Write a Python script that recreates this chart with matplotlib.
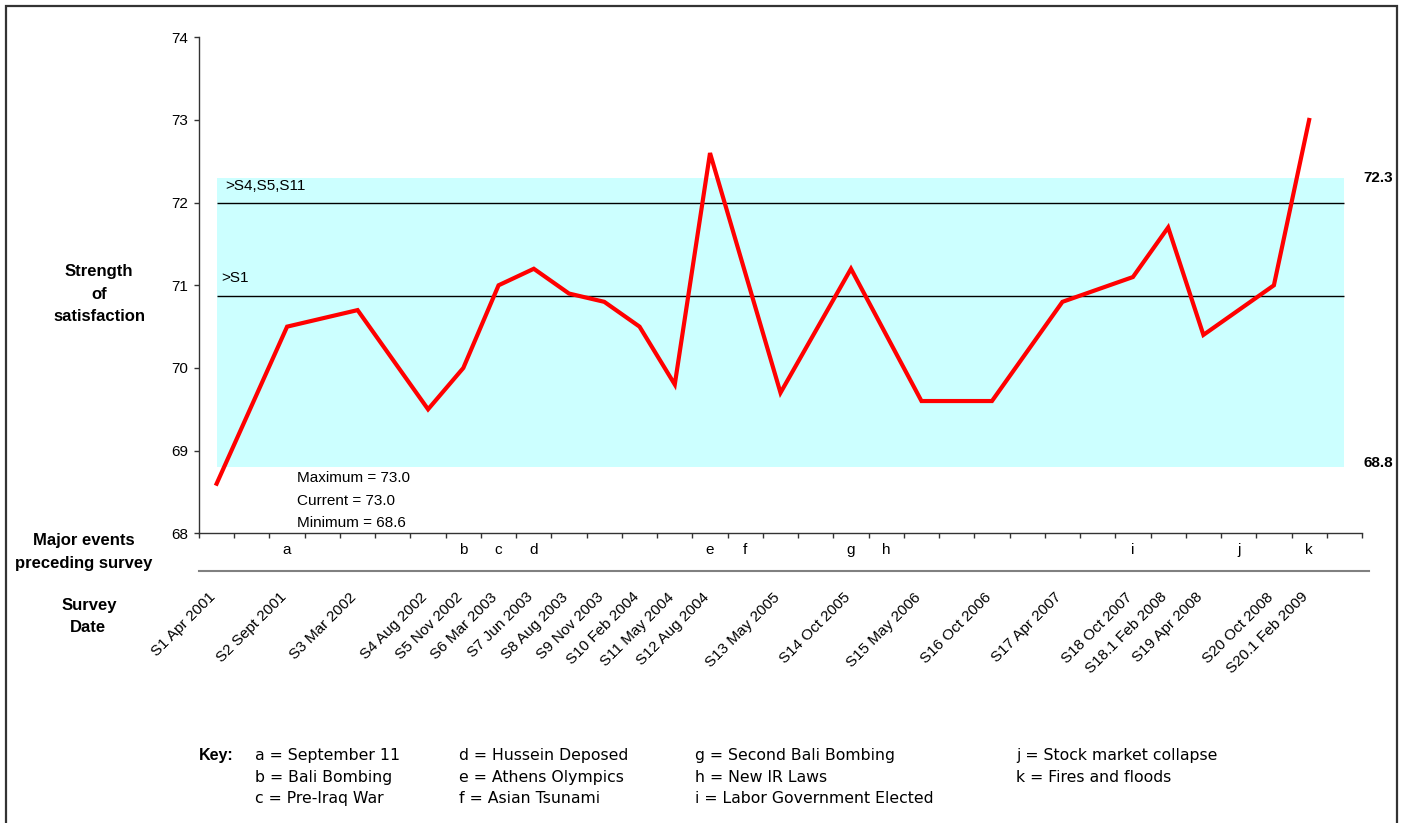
import numpy as np
import matplotlib
matplotlib.use("Agg")
import matplotlib.pyplot as plt
import matplotlib.transforms as mtransforms
from matplotlib.patches import Rectangle
from matplotlib.lines import Line2D

plt.rcParams['font.family'] = ['Liberation Sans', 'DejaVu Sans']

# ---------------- data ----------------
survey_labels = ['S1 Apr 2001', '', 'S2 Sept 2001', '', 'S3 Mar 2002', '',
                 'S4 Aug 2002', 'S5 Nov 2002', 'S6 Mar 2003', 'S7 Jun 2003',
                 'S8 Aug 2003', 'S9 Nov 2003', 'S10 Feb 2004', 'S11 May 2004',
                 'S12 Aug 2004', '', 'S13 May 2005', '', 'S14 Oct 2005', '',
                 'S15 May 2006', '', 'S16 Oct 2006', '', 'S17 Apr 2007', '',
                 'S18 Oct 2007', 'S18.1 Feb 2008', 'S19 Apr 2008', '',
                 'S20 Oct 2008', 'S20.1 Feb 2009', '']
nan = np.nan
satisfaction = [68.6, nan, 70.5, nan, 70.7, nan, 69.5, 70.0, 71.0, 71.2,
                70.9, 70.8, 70.5, 69.8, 72.6, nan, 69.7, nan, 71.2, nan,
                69.6, nan, 69.6, nan, 70.8, nan, 71.1, 71.7, 70.4, nan,
                71.0, 73.0, nan]
event_letters = ['', '', 'a', '', '', '', '', 'b', 'c', 'd', '', '', '', '',
                 'e', 'f', '', '', 'g', 'h', '', '', '', '', '', '', 'i', '',
                 '', 'j', '', 'k', '']
band_low, band_high = 68.8, 72.3
ref_values = [72.0, 70.87]
ref_labels = ['>S4,S5,S11', '>S1']
stats_text = ['Maximum = 73.0', 'Current = 73.0', 'Minimum = 68.6']
key_columns = [
    ['a = September 11', 'b = Bali Bombing', 'c = Pre-Iraq War'],
    ['d = Hussein Deposed', 'e = Athens Olympics', 'f = Asian Tsunami'],
    ['g = Second Bali Bombing', 'h = New IR Laws', 'i = Labor Government Elected'],
    ['j = Stock market collapse', 'k = Fires and floods'],
]
y_ticks = [68, 69, 70, 71, 72, 73, 74]

# ---------------- figure ----------------
W, H = 1409, 823
fig = plt.figure(figsize=(W / 100, H / 100), dpi=100)

def fx(px):
    return px / W

def fy(py):
    return 1 - py / H

ax = fig.add_axes([fx(199), fy(533.3), fx(1362) - fx(199), fy(37.3) - fy(533.3)])
n = len(survey_labels)
x = np.arange(n)
y = np.array(satisfaction, dtype=float)
mask = ~np.isnan(y)

ax.set_xlim(-0.5, n - 0.5)
ax.set_ylim(68, 74)

FS = 11

# band and reference lines
first, last = 0, n - 1
ax.fill_between([first, last], band_low, band_high, color='#CCFFFF', zorder=0, lw=0)
ax.hlines(ref_values, first, last, colors='black', lw=1.0, zorder=1)
ax.text(0.24, 72.28, ref_labels[0], ha='left', va='top', fontsize=FS)
ax.text(0.12, 71.085, ref_labels[1], ha='left', va='center', fontsize=FS)

# main line
ax.plot(x[mask], y[mask], color='#FF0000', lw=3.0, solid_joinstyle='miter', zorder=3, clip_on=False)

# stats
for i, t in enumerate(stats_text):
    ax.text(2.29, 68.665 - i * 0.27, t, ha='left', va='center', fontsize=FS)

# right band labels
ax.text(32.55, band_high, f'{band_high:.1f}', ha='left', va='center', fontsize=FS, fontweight='bold')
ax.text(32.55, band_low + 0.05, f'{band_low:.1f}', ha='left', va='center', fontsize=FS, fontweight='bold')

# spines / ticks
for s in ['top', 'right']:
    ax.spines[s].set_visible(False)
for s in ['left', 'bottom']:
    ax.spines[s].set_color('#333333')
    ax.spines[s].set_linewidth(1.0)
ax.set_xticks(np.arange(n + 1) - 0.5)
ax.set_xticklabels([])
ax.tick_params(axis='x', direction='out', length=3.6, color='#333333', width=1)
ax.set_yticks(y_ticks)
ax.set_yticklabels([str(v) for v in y_ticks], fontsize=FS)
ax.tick_params(axis='y', direction='out', length=3.6, color='#333333', width=1, pad=4.0)

# event letters and survey labels
blend = mtransforms.blended_transform_factory(ax.transData, fig.transFigure)
for k, e in enumerate(event_letters):
    if e:
        ax.text(k, fy(550), e, transform=blend, ha='center', va='center', fontsize=FS)

off = mtransforms.ScaledTranslation(-8 / 100, 0, fig.dpi_scale_trans)
for k, lab in enumerate(survey_labels):
    if lab:
        ax.text(k, fy(590), lab, transform=blend + off, rotation=45,
                rotation_mode='anchor', ha='right', va='top', fontsize=FS)

# separator line
fig.add_artist(Line2D([fx(199), fx(1369)], [fy(571), fy(571)], color='#808080', lw=1.5,
                      transform=fig.transFigure))

# left labels
for t, px, py in [('Strength', 99, 271.7), ('of', 99, 294.3), ('satisfaction', 99, 316.7),
                  ('Major events', 84, 541), ('preceding survey', 84, 563.3),
                  ('Survey', 89, 605.7), ('Date', 88, 627.7)]:
    fig.text(fx(px), fy(py), t, ha='center', va='center', fontsize=12, fontweight='bold')

# key
fig.text(fx(199), fy(755.7), 'Key:', ha='left', va='center', fontsize=11.5, fontweight='bold')
col_x = [255, 459, 695, 1016]
row_y = [755.7, 777.2, 798.8]
for cx, col in zip(col_x, key_columns):
    for ry, t in zip(row_y, col):
        fig.text(fx(cx), fy(ry), t, ha='left', va='center', fontsize=11.3,
                 family=['DejaVu Sans'])

# outer border
fig.add_artist(Rectangle((fx(5.5), -0.02), fx(1396.5) - fx(5.5), fy(6) + 0.02,
                         transform=fig.transFigure, fill=False, edgecolor='#333333',
                         lw=1.6, clip_on=False))

fig.savefig('out.png', dpi=100)
